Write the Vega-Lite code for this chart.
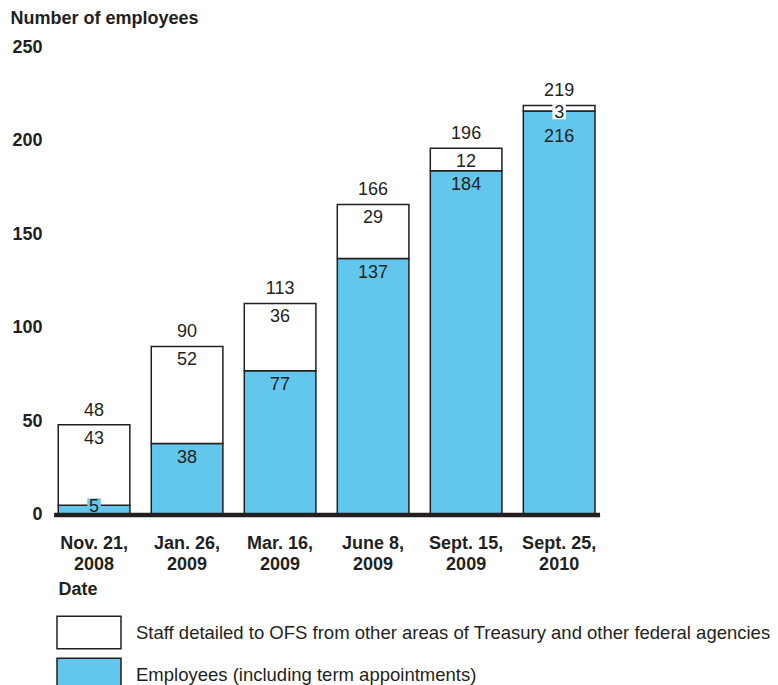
{
  "$schema": "https://vega.github.io/schema/vega-lite/v6.json",
  "autosize": {"type": "none"},
  "padding": {"left": 53.6, "top": 47.5, "right": 178.4, "bottom": 170.5},
  "width": 546,
  "height": 467,
  "background": "white",
  "data": {
    "values": [
      {"date": "Nov. 21, 2008", "emp": 5, "staff": 43, "total": 48},
      {"date": "Jan. 26, 2009", "emp": 38, "staff": 52, "total": 90},
      {"date": "Mar. 16, 2009", "emp": 77, "staff": 36, "total": 113},
      {"date": "June 8, 2009", "emp": 137, "staff": 29, "total": 166},
      {"date": "Sept. 15, 2009", "emp": 184, "staff": 12, "total": 196},
      {"date": "Sept. 25, 2010", "emp": 216, "staff": 3, "total": 219}
    ]
  },
  "encoding": {
    "x": {
      "field": "date",
      "type": "nominal",
      "sort": null,
      "scale": {"paddingInner": 0.23, "paddingOuter": 0.05},
      "axis": {
        "title": "Date",
        "labelAngle": 0,
        "labelExpr": "[split(datum.label, ', ')[0] + ',', split(datum.label, ', ')[1]]",
        "labelFont": "Liberation Sans",
        "labelFontWeight": "bold",
        "labelFontSize": 18,
        "labelColor": "#231f20",
        "labelLineHeight": 21,
        "labelPadding": 20,
        "labelBaseline": "top",
        "ticks": false,
        "domain": true,
        "domainColor": "#231f20",
        "domainWidth": 4.5,
        "zindex": 1,
        "titleFont": "Liberation Sans",
        "titleFontWeight": "bold",
        "titleFontSize": 18,
        "titleColor": "#231f20",
        "titleAlign": "left",
        "titleAnchor": "start",
        "titleBaseline": "alphabetic",
        "titleX": 4.4,
        "titleY": 80
      }
    }
  },
  "layer": [
    {
      "transform": [
        {"fold": ["emp", "staff"], "as": ["series", "value"]},
        {"stack": "value", "groupby": ["date"], "sort": [{"field": "series", "order": "ascending"}], "as": ["v0", "v1"]}
      ],
      "mark": {"type": "bar", "stroke": "#231f20", "strokeWidth": 1.5},
      "encoding": {
        "y": {"field": "v1", "type": "quantitative", "title": "Number of employees", "scale": {"domain": [0, 250], "nice": false}, "axis": {"values": [0, 50, 100, 150, 200, 250]}},
        "y2": {"field": "v0"},
        "fill": {
          "field": "series",
          "type": "nominal",
          "scale": {"domain": ["staff", "emp"], "range": ["white", "#62c6ed"]},
          "legend": {
            "title": null,
            "orient": "none",
            "legendX": 18.4,
            "legendY": 568,
            "padding": 0,
            "direction": "vertical",
            "symbolType": "M-2,-1.016H2V1.016H-2Z",
            "symbolSize": 1024,
            "symbolStrokeColor": "#231f20",
            "symbolStrokeWidth": 1.5,
            "rowPadding": 2,
            "labelFont": "Liberation Sans",
            "labelFontSize": 18.5,
            "labelColor": "#231f20",
            "labelOffset": 30,
            "labelLimit": 0,
            "labelExpr": "datum.label === 'staff' ? 'Staff detailed to OFS from other areas of Treasury and other federal agencies' : 'Employees (including term appointments)'"
          }
        }
      }
    },
    {
      "transform": [
        {"fold": ["emp", "staff"], "as": ["series", "value"]},
        {"stack": "value", "groupby": ["date"], "sort": [{"field": "series", "order": "ascending"}], "as": ["v0", "v1"]},
        {"filter": "datum.value >= 10 && !(datum.series === 'emp' && datum.staff < 10)"}
      ],
      "mark": {"type": "text", "font": "Liberation Sans", "fontSize": 18, "color": "#231f20", "baseline": "middle", "dy": 14},
      "encoding": {
        "y": {"field": "v1", "type": "quantitative", "title": "Number of employees", "axis": {"values": [0, 50, 100, 150, 200, 250]}},
        "text": {"field": "value", "type": "quantitative"}
      }
    },
    {
      "transform": [
        {"fold": ["emp", "staff"], "as": ["series", "value"]},
        {"filter": "datum.series === 'emp' && datum.staff < 10"}
      ],
      "mark": {"type": "text", "font": "Liberation Sans", "fontSize": 18, "color": "#231f20", "baseline": "middle", "dy": 26},
      "encoding": {
        "y": {"field": "emp", "type": "quantitative", "title": "Number of employees", "axis": {"values": [0, 50, 100, 150, 200, 250]}},
        "text": {"field": "value", "type": "quantitative"}
      }
    },
    {
      "transform": [
        {"fold": ["emp", "staff"], "as": ["series", "value"]},
        {"filter": "datum.value < 10"}
      ],
      "mark": {"type": "point", "shape": "M-0.9,-0.9H0.9V1.1H-0.9Z", "size": 225, "filled": true, "opacity": 1, "strokeWidth": 0},
      "encoding": {
        "y": {"field": "emp", "type": "quantitative", "title": "Number of employees", "axis": {"values": [0, 50, 100, 150, 200, 250]}},
        "fill": {"condition": {"test": "datum.series === 'emp'", "value": "#62c6ed"}, "value": "white"}
      }
    },
    {
      "transform": [
        {"fold": ["emp", "staff"], "as": ["series", "value"]},
        {"filter": "datum.value < 10"}
      ],
      "mark": {"type": "text", "font": "Liberation Sans", "fontSize": 18, "color": "#231f20", "baseline": "middle", "dy": 1.5},
      "encoding": {
        "y": {"field": "emp", "type": "quantitative", "title": "Number of employees", "axis": {"values": [0, 50, 100, 150, 200, 250]}},
        "text": {"field": "value", "type": "quantitative"}
      }
    },
    {
      "mark": {"type": "text", "font": "Liberation Sans", "fontSize": 18, "color": "#231f20", "baseline": "alphabetic", "dy": -9},
      "encoding": {
        "y": {"field": "total", "type": "quantitative", "title": "Number of employees", "axis": {"values": [0, 50, 100, 150, 200, 250]}},
        "text": {"field": "total", "type": "quantitative"}
      }
    }
  ],
  "config": {
    "view": {"stroke": null},
    "axisY": {
      "grid": false,
      "ticks": false,
      "domain": false,
      "labelFont": "Liberation Sans",
      "labelFontWeight": "bold",
      "labelFontSize": 18,
      "labelColor": "#231f20",
      "labelPadding": 11.6,
      "titleFont": "Liberation Sans",
      "titleFontWeight": "bold",
      "titleFontSize": 18,
      "titleColor": "#231f20",
      "titleAngle": 0,
      "titleAlign": "left",
      "titleAnchor": "start",
      "titleBaseline": "alphabetic",
      "titleX": -43.6,
      "titleY": -24.5
    }
  }
}
